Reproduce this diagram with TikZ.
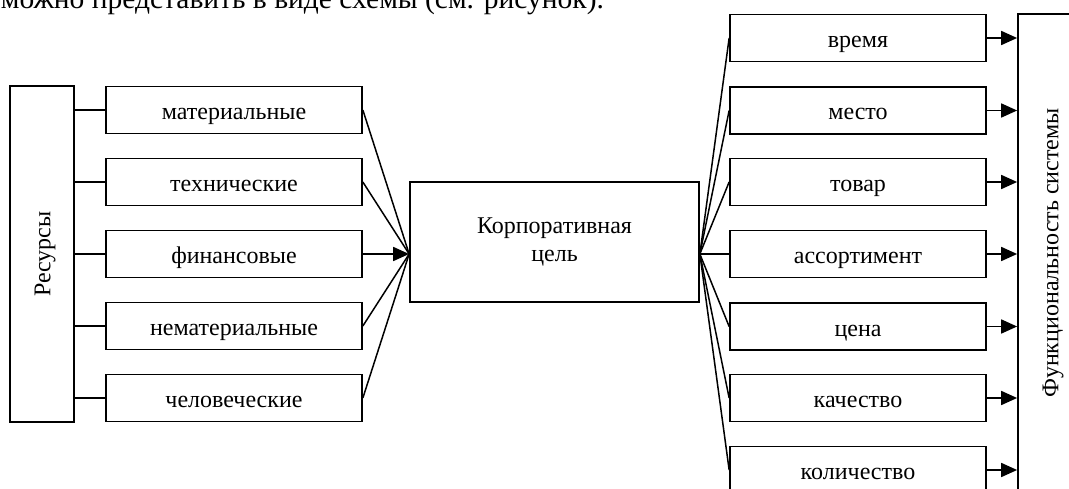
\documentclass[tikz,border=0pt]{standalone}
\usepackage{fontspec}
\setmainfont{Liberation Serif}
\usetikzlibrary{arrows.meta,calc}
\begin{document}
\begin{tikzpicture}[x=1pt,y=-1pt,line width=1.7pt,
  box/.style={draw,inner sep=0pt,font=\fontsize{24}{27.6}\selectfont},
  item/.style={box,minimum width=256pt,minimum height=47pt,text height=19pt,text depth=0pt},
  link/.style={line width=1.5pt},
  feed/.style={line width=1.7pt,-{Triangle[length=16pt,width=14pt]}}]
\useasboundingbox (0,0) rectangle (1069,489);
\clip (0,0) rectangle (1069,489);

% running text line above the scheme
\node[anchor=base west,inner sep=0pt,font=\fontsize{29.5}{34}\selectfont] (intro) at (0,9)
  {можно представить в виде схемы (см. рисунок).};

% resources
\node[box,minimum width=64pt,minimum height=336pt] (res) at (42,254) {};
\node[rotate=90,font=\fontsize{24}{27.6}\selectfont] (restext) at (45,254) {Ресурсы};
\foreach \n/\t/\y in {r1/материальные/110,r2/технические/182,r3/финансовые/254,
                      r4/нематериальные/326,r5/человеческие/398}{
  \node[item] (\n) at (234,\y) {\t};
  \draw[link] (res.east |- \n.west) -- (\n.west);
}

% goal
\node[box,minimum width=289pt,minimum height=120pt,align=center] (goal) at (554.5,242)
  {Корпоративная\\цель};
\coordinate (gin) at (goal.west |- r3.east);

\foreach \n in {r1,r2,r4,r5}{ \draw[link] (\n.east) -- (gin); }
\draw[feed] (r3.east) -- (gin);

% characteristics
\foreach \n/\t/\y in {c1/время/38,c2/место/110.5,c3/товар/182,c4/ассортимент/254,
                      c5/цена/326.5,c6/качество/398,c7/количество/470}{
  \node[item] (\n) at (858,\y) {\t};
}
\coordinate (gout) at (goal.east |- c4.west);
\foreach \n in {c1,c2,c3,c4,c5,c6,c7}{ \draw[link] (gout) -- (\n.west); }

% system functionality
\node[box,minimum width=102pt,minimum height=546pt] (func) at (1069,287) {};
\node[rotate=90,font=\fontsize{24}{27.6}\selectfont] (functext) at (1053,253)
  {Функциональность системы};
\foreach \n in {c1,c2,c3,c4,c5,c6,c7}{ \draw[feed] (\n.east) -- (func.west |- \n.east); }
\end{tikzpicture}
\end{document}
